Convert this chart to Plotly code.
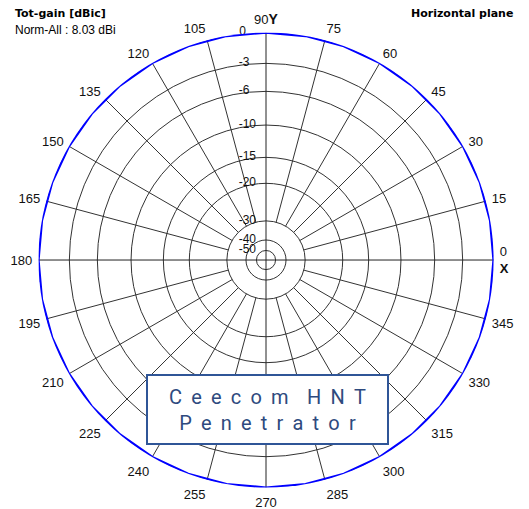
import plotly.graph_objects as go
import numpy as np

# Radial scale of the plot (dB label -> fraction of outer radius)
scale_db = [0, -3, -6, -10, -15, -20, -30, -40, -50]
scale_r = [1.0, 0.864, 0.741, 0.593, 0.451, 0.337, 0.172, 0.088, 0.042]
radial_labels = ["0", "-3", "-6", "-10", "-15", "-20", "-30", "-40", "-50"]

# Angular ticks
angle_ticks = list(range(0, 360, 15))
angle_labels = ["0<br><b>X</b>", "15", "30", "45", "60", "75",
                "90<b><span style='font-size:14px'>Y</span></b>", "105", "120", "135", "150", "165",
                "180", "195", "210", "225", "240", "255", "270", "285", "300", "315", "330", "345"]

# Gain pattern (horizontal plane), dB normalised
gain_theta = [0, 10, 20, 30, 40, 50, 60, 70, 80, 90, 100, 110, 120, 130, 140, 150, 160, 170,
              180, 190, 200, 210, 220, 230, 240, 250, 260, 270, 280, 290, 300, 310, 320, 330, 340, 350, 360]
gain_db = [0.0, 0.0, 0.0, 0.0, 0.0, 0.0, 0.0, 0.0, 0.0, 0.0, 0.0, 0.0, 0.0, 0.0, 0.0, 0.0, 0.0, 0.0,
           0.0, 0.0, 0.0, 0.0, 0.0, 0.0, 0.0, 0.0, 0.0, 0.0, 0.0, 0.0, 0.0, 0.0, 0.0, 0.0, 0.0, 0.0, 0.0]

spoke_inner_db = -30


def to_r(db):
    return np.interp(db, scale_db[::-1], scale_r[::-1])


def text_width(s):
    return sum(4.0 if c == "-" else 6.67 for c in s)


fig = go.Figure()

# spokes every 15 deg from -30 dB circle outward; axes through centre
sr, st = [], []
r_in = float(to_r(spoke_inner_db))
for a in angle_ticks:
    if a % 90 == 0:
        continue
    sr += [r_in, 1.0, None]
    st += [a, a, None]
fig.add_trace(go.Scatterpolar(r=sr, theta=st, mode="lines",
                              line=dict(color="#333333", width=1), hoverinfo="skip", showlegend=False))
ar, at = [], []
for a in (0, 90):
    ar += [1.0, 0.0, 1.0, None]
    at += [a, a, a + 180, None]
fig.add_trace(go.Scatterpolar(r=ar, theta=at, mode="lines",
                              line=dict(color="#222222", width=1), hoverinfo="skip", showlegend=False))

# radial labels along the 90-degree axis (left aligned look)
maxw = max(text_width(s) for s in radial_labels)
rl_text = [s + "\u00a0" * int(round(3 + (maxw - text_width(s)) / 3.33)) for s in radial_labels]
fig.add_trace(go.Scatterpolar(r=scale_r, theta=[90] * len(scale_r), mode="text",
                              text=rl_text, textposition="middle left", cliponaxis=False,
                              textfont=dict(family="Liberation Sans, Arial", size=12, color="#111"),
                              hoverinfo="skip", showlegend=False))

fig.add_trace(go.Scatterpolar(r=to_r(np.array(gain_db)), theta=gain_theta, mode="lines",
                              line=dict(color="#0000ff", width=2.5), cliponaxis=False,
                              showlegend=False))

fig.update_layout(
    width=529, height=509,
    margin=dict(l=0, r=0, t=0, b=0),
    paper_bgcolor="white", plot_bgcolor="white",
    showlegend=False,
    polar=dict(
        domain=dict(x=[0.0726, 0.9331], y=[0.0420, 0.9363]),
        bgcolor="white",
        radialaxis=dict(range=[0, 1], tickvals=scale_r, showticklabels=False,
                        angle=90, showline=False, ticks="",
                        gridcolor="#333333", gridwidth=1),
        angularaxis=dict(direction="counterclockwise", rotation=0,
                         tickvals=angle_ticks, ticktext=angle_labels,
                         showgrid=False, showline=False,
                         ticks="outside", ticklen=3, tickcolor="rgba(0,0,0,0)",
                         tickfont=dict(family="Liberation Sans, Arial", size=13, color="#111")),
    ),
    font=dict(family="Liberation Sans, Arial"),
)

fig.add_annotation(xref="paper", yref="paper", x=0.025, y=0.990, xanchor="left", yanchor="top",
                   text="<b>Tot-gain [dBic]</b>", showarrow=False,
                   font=dict(family="DejaVu Sans", size=11, color="#000"))
fig.add_annotation(xref="paper", yref="paper", x=0.025, y=0.958, xanchor="left", yanchor="top",
                   text="Norm-All : 8.03 dBi", showarrow=False,
                   font=dict(size=12, color="#000"))
fig.add_annotation(xref="paper", yref="paper", x=0.974, y=0.990, xanchor="right", yanchor="top",
                   text="<b>Horizontal plane</b>", showarrow=False,
                   font=dict(family="DejaVu Sans", size=11, color="#000"))

sp = "\u2005\u2009"
line1 = sp.join("Ceecom") + sp + sp + sp.join("HNT")
line2 = sp.join("Penetrator")
fig.add_annotation(xref="paper", yref="paper", x=(146 + 389) / 2 / 529, y=1 - (374 + 445) / 2 / 509,
                   xanchor="center", yanchor="middle",
                   text=line1 + "<br>" + line2, showarrow=False,
                   width=239, height=67, bgcolor="white", bordercolor="#2f5597", borderwidth=2,
                   borderpad=0,
                   font=dict(family="Roboto", size=20, color="#2e4a7e"))

fig.write_html("out.html", config={"displayModeBar": False},
               post_script="document.body.style.margin='0';")
